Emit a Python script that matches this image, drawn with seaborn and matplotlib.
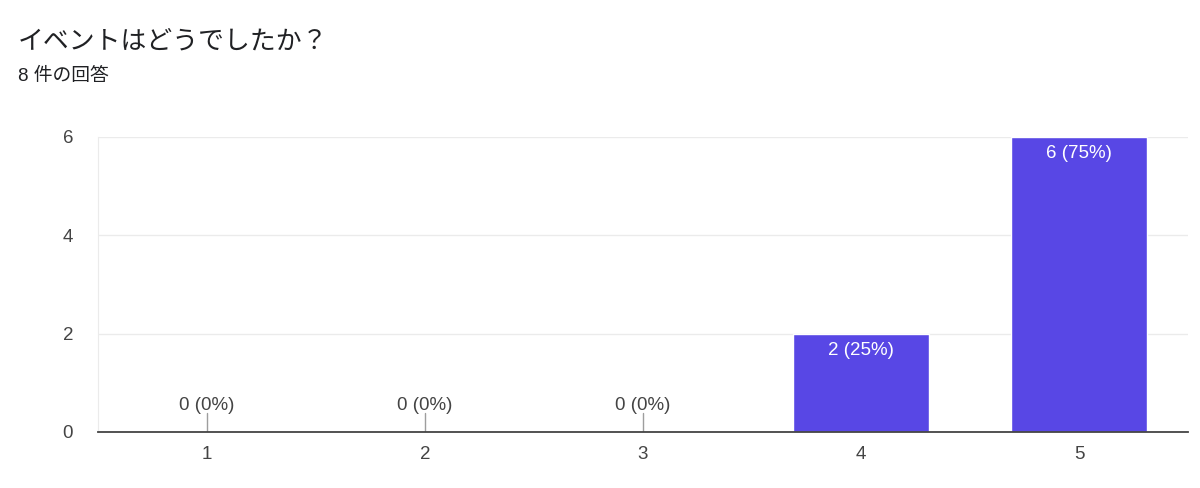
import seaborn as sns
import pandas as pd
import matplotlib.pyplot as plt

sns.set_style("white")
plt.rcParams['font.family'] = ['Liberation Sans', 'Noto Sans CJK JP', 'DejaVu Sans']

title = "イベントはどうでしたか？"
subtitle = "8 件の回答"
ratings = ["1", "2", "3", "4", "5"]
counts = [0, 0, 0, 2, 6]
total = 8

df = pd.DataFrame({"rating": ratings, "count": counts})
bar_color = "#5847e5"

fig = plt.figure(figsize=(12, 4.88), dpi=100)
ax = fig.add_axes([0.0817, 0.1148, 0.9083, 0.6045])

sns.barplot(data=df, x="rating", y="count", color=bar_color, width=0.62,
            saturation=1, ax=ax, zorder=3)

ax.set_xlim(-0.5, 4.5)
ax.set_ylim(0, 6)
ax.set_yticks([0, 2, 4, 6])
ax.yaxis.grid(True, color="#ebebeb", linewidth=1, zorder=0)
ax.set_xlabel("")
ax.set_ylabel("")
for s in ["top", "right"]:
    ax.spines[s].set_visible(False)
ax.spines["left"].set_color("#ebebeb")
ax.spines["bottom"].set_color("#444444")
ax.spines["bottom"].set_linewidth(1.3)
ax.spines["bottom"].set_zorder(4)
ax.tick_params(axis="both", length=0, labelsize=13.5, colors="#444444")
ax.tick_params(axis="x", pad=10)
ax.tick_params(axis="y", pad=18)

for i, c in enumerate(counts):
    lab = f"{c} ({c / total * 100:.0f}%)"
    if c == 0:
        ax.plot([i, i], [0, 0.38], color="#9e9e9e", linewidth=1, zorder=3)
        ax.text(i, 0.37, lab, ha="center", va="bottom", fontsize=13.5, color="#444444")
    else:
        ax.text(i, c - 0.16, lab, ha="center", va="top", fontsize=13.5, color="white")

fig.text(0.015, 0.914, title, fontsize=18.6, color="#202124", va="center")
fig.text(0.015, 0.844, subtitle, fontsize=13.5, color="#202124", va="center")

fig.savefig("out.png", dpi=100)
